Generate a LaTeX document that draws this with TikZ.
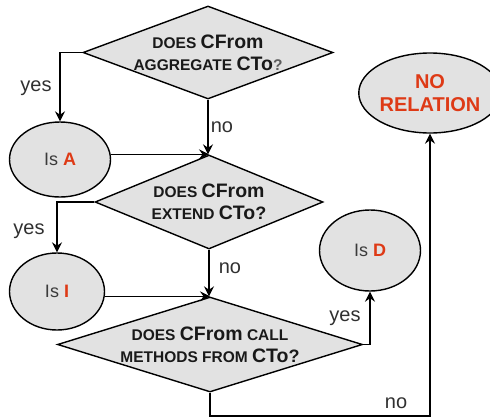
\documentclass[tikz,border=0pt]{standalone}
\usepackage{fontspec}
\setmainfont{Liberation Sans}
\usetikzlibrary{shapes.geometric,arrows.meta}
\definecolor{boxfill}{RGB}{226,226,226}
\definecolor{accent}{RGB}{222,58,22}
\definecolor{ink}{RGB}{25,25,25}
\newcommand\qsmallcaps{\fontsize{15.5}{22}\selectfont\bfseries}
\newcommand\qbigcaps{\fontsize{19.5}{22}\selectfont\bfseries}
\begin{document}
\begin{tikzpicture}[x=1pt,y=-1pt,
  decision/.style={diamond, draw, line width=1.4pt, fill=boxfill, inner xsep=-40pt, inner ysep=-12pt, align=center, text=ink, font=\qsmallcaps},
  outcome/.style={ellipse, draw, line width=1.4pt, fill=boxfill, inner sep=0pt, align=center, text=ink!85, font=\fontsize{18}{22}\selectfont},
  arr/.style={line width=1.4pt, -{Stealth[length=10pt,width=10pt,inset=3.5pt]}},
  lbl/.style={font=\fontsize{20}{22}\selectfont, text=ink!90, inner sep=0pt}]
\useasboundingbox (0,0) rectangle (490,418);
\node[decision, shape aspect=2.69, minimum width=250pt, minimum height=93pt] (D1) at (208,52.5)
  {DOES {\qbigcaps CFrom}\\AGGREGATE {\qbigcaps CTo}{\color{ink!70}?}};
\node[decision, shape aspect=2.43, minimum width=228pt, minimum height=94pt] (D2) at (209,202)
  {DOES {\qbigcaps CFrom}\\EXTEND {\qbigcaps CTo}{\fontsize{18}{22}\selectfont ?}};
\node[decision, shape aspect=3.2, minimum width=305pt, minimum height=95pt] (D3) at (210,344.5)
  {DOES {\qbigcaps CFrom} CALL\\METHODS FROM {\qbigcaps CTo}{\fontsize{18}{22}\selectfont ?}};
\node[outcome, minimum width=101pt, minimum height=75pt] (A) at (60,159.5)
  {Is {\bfseries\color{accent}A}};
\node[outcome, minimum width=95pt, minimum height=77pt] (I) at (57,291.5)
  {Is {\bfseries\color{accent}I}};
\node[outcome, minimum width=101pt, minimum height=81pt] (D) at (370,250.5)
  {Is {\bfseries\color{accent}D}};
\node[outcome, minimum width=118pt, minimum height=80pt, text=accent, font=\fontsize{20}{23.5}\selectfont\bfseries] (NR) at (430,93)
  {NO\\RELATION};
\coordinate (corner) at (210,416);
% connectors
\draw[arr] (D1.west) -| (A.north);
\draw[arr] (D1.south) -- (D1.south |- D2.north);
\draw[arr] (A.east |- D2.north) -- (D2.north);
\draw[arr] (D2.west) -| (I.north);
\draw[arr] (D2.south) -- (D2.south |- D3.north);
\draw[arr] (I.east |- D3.north) -- (D3.north);
\draw[arr] (D3.east) -| (D.south);
\draw[arr] (D3.south) -- (corner) -| (NR.south);
% labels
\node[lbl] (y1) at (36,88) {yes};
\node[lbl] (n1) at (222,127) {no};
\node[lbl] (y2) at (29,231) {yes};
\node[lbl] (n2) at (230,268) {no};
\node[lbl] (y3) at (345,318) {yes};
\node[lbl] (n3) at (396,403) {no};
\end{tikzpicture}
\end{document}
